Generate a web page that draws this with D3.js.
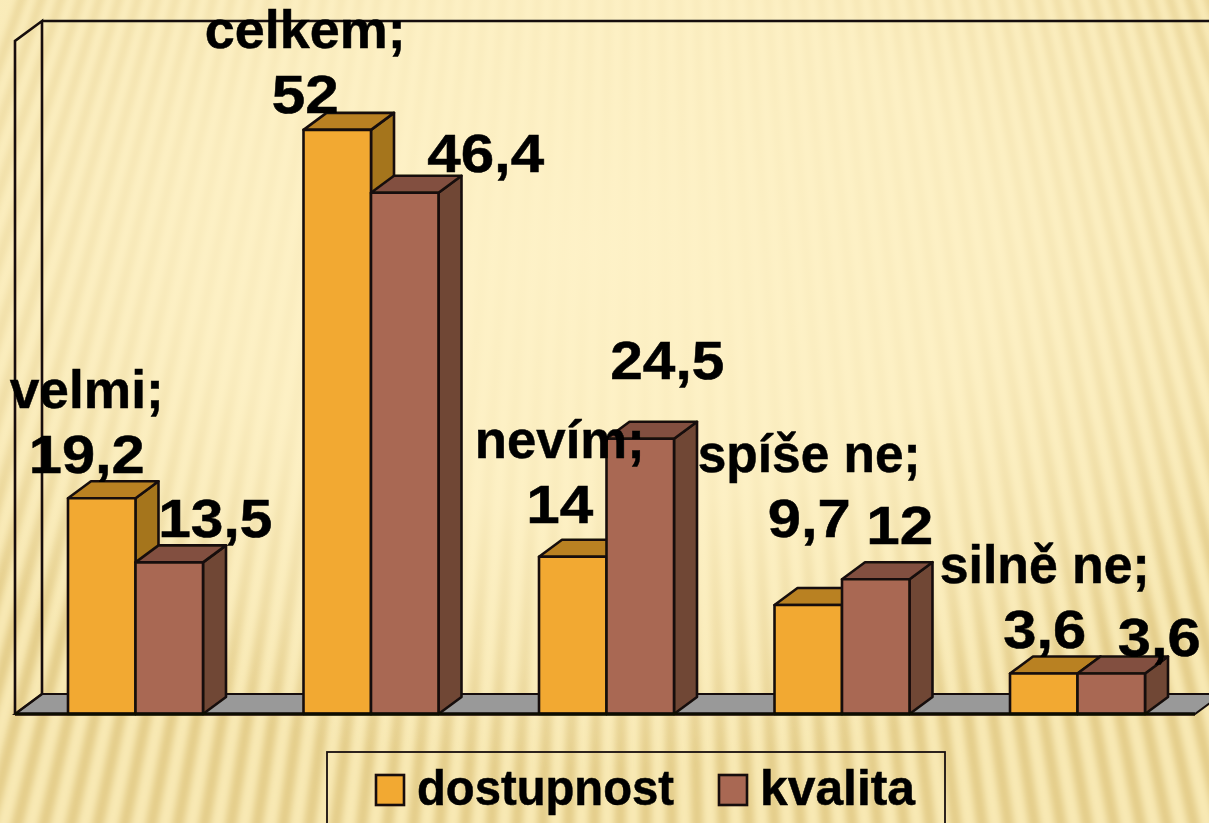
<!DOCTYPE html>
<html><head><meta charset="utf-8">
<script src="https://cdn.jsdelivr.net/npm/d3@7"></script>
<style>html,body{margin:0;padding:0;background:#f8e8b4;overflow:hidden}svg{display:block}
text{font-family:"Liberation Sans",Arial,sans-serif;font-weight:700;fill:#000;stroke:#000;stroke-width:.5px}</style>
</head><body><div id="chart"></div>
<script>
// ---- data ----
const categories = ["velmi", "celkem", "nevím", "spíše ne", "silně ne"];
const seriesNames = ["dostupnost", "kvalita"];
const dostupnost = [19.2, 52, 14, 9.7, 3.6];
const kvalita = [13.5, 46.4, 24.5, 12, 3.6];
const seriesValues = [dostupnost, kvalita];

// ---- layout of the hand-placed data labels (offset from the bar's front top centre) ----
const labelDx = [[-15, -32, -13, 1, 1], [46, 81, 27, 24, 48]];
const labelDy = [[-25, -17, -34, -68, -26], [-25, -21, -60, -35, -18]];
const labelW  = [[116, 67, 67, 83, 83], [114, 117, 114, 67, 83]];
const catDy = -65;
const catW = [154, 201, 170, 223, 210];

const W = 1209, H = 823;
const colors = {
  dostupnost: {front:"#f2a933", side:"#a5741c", top:"#b98124"},
  kvalita:    {front:"#a96853", side:"#6f4636", top:"#82503f"}
};
const ink = "#17100a";
const svg = d3.select("#chart").append("svg").attr("width", W).attr("height", H);
const defs = svg.append("defs");
defs.append("filter").attr("id","stripeBlur").attr("x","-5%").attr("y","-5%").attr("width","110%").attr("height","110%")
  .append("feGaussianBlur").attr("stdDeviation", 3.2);
defs.append("filter").attr("id","soft").attr("x","-2%").attr("y","-2%").attr("width","104%").attr("height","104%")
  .append("feGaussianBlur").attr("stdDeviation", 0.5);
const glow = defs.append("radialGradient").attr("id","glow").attr("gradientUnits","userSpaceOnUse")
  .attr("cx",0).attr("cy",0).attr("r",1)
  .attr("gradientTransform","translate(590,250) scale(800,520)");
[[0,.97],[.5,.82],[.8,.42],[1,0]].forEach(([o,a]) =>
  glow.append("stop").attr("offset",o).attr("stop-color","#fef2c8").attr("stop-opacity",a));

// ---- background: fan of soft stripes ----
svg.append("rect").attr("width",W).attr("height",H).attr("fill","#f8e9b4");
const apex = [640,-1800], radius = 3400, period = 0.0098;
const stripes = svg.append("g").attr("filter","url(#stripeBlur)");
d3.range(-34, 34).forEach(i => {
  const a0 = i*period, a1 = a0 + period*0.45;
  stripes.append("path").attr("fill","#e4cd8a")
    .attr("d", d3.line()([apex,
      [apex[0]+radius*Math.sin(a0), apex[1]+radius*Math.cos(a0)],
      [apex[0]+radius*Math.sin(a1), apex[1]+radius*Math.cos(a1)]])+"Z");
});
svg.append("rect").attr("width",W).attr("height",H).attr("fill","url(#glow)");

// ---- scales ----
const x0 = d3.scaleBand().domain(categories).range([68,1145]).paddingInner(0.4268);
const x1 = d3.scaleBand().domain(seriesNames).range([0,x0.bandwidth()]);
const y = d3.scaleLinear().domain([0,60]).range([714,40]);
const depthX = 23, depthY = -17, wallX = 27, wallY = -20;

const g = svg.append("g").attr("filter","url(#soft)");
const line = d3.line();
const base = y(0), topY = y(60);

// floor and walls
g.append("path").attr("fill","#999999").attr("stroke",ink).attr("stroke-width",2)
  .attr("d", line([[15,base],[15+wallX,base+wallY],[1195+wallX,base+wallY],[1195,base]])+"Z");
g.append("path").attr("fill","none").attr("stroke",ink).attr("stroke-width",2.6)
  .attr("d", line([[15,base],[15,topY+1],[15+wallX,topY+wallY+1],[15+wallX,base+wallY]]));
g.append("path").attr("fill","none").attr("stroke",ink).attr("stroke-width",2.6)
  .attr("d", line([[15+wallX,topY+wallY+1],[W+5,topY+wallY+1]]));
g.append("path").attr("fill","none").attr("stroke",ink).attr("stroke-width",2.4)
  .attr("d", line([[15,base],[15+wallX,base+wallY]]));

// bars
const barRows = categories.flatMap((c,i) => seriesNames.map((s,j) => ({c,i,s,j,v:seriesValues[j][i]})));
const bars = g.selectAll("g.bar").data(barRows).join("g").attr("class","bar")
  .attr("stroke",ink).attr("stroke-width",2.6).attr("stroke-linejoin","round");
const L = d => x0(d.c)+x1(d.s), R = d => L(d)+x1.bandwidth();
bars.append("path").attr("fill",d=>colors[d.s].side)
  .attr("d",d=>line([[R(d),y(d.v)],[R(d)+depthX,y(d.v)+depthY],[R(d)+depthX,base+depthY],[R(d),base]])+"Z");
bars.append("path").attr("fill",d=>colors[d.s].top)
  .attr("d",d=>line([[L(d),y(d.v)],[L(d)+depthX,y(d.v)+depthY],[R(d)+depthX,y(d.v)+depthY],[R(d),y(d.v)]])+"Z");
bars.append("rect").attr("fill",d=>colors[d.s].front)
  .attr("x",L).attr("y",d=>y(d.v)).attr("width",x1.bandwidth()).attr("height",d=>base-y(d.v));

// baseline
g.append("path").attr("fill","none").attr("stroke","#0c0805").attr("stroke-width",3.4)
  .attr("d", line([[15,base],[1195,base]]));

// data labels
const fmt = v => String(v).replace(".",",");
const labels = g.append("g");
barRows.forEach(d => {
  const cx = L(d)+x1.bandwidth()/2 + labelDx[d.j][d.i];
  const by = y(d.v) + labelDy[d.j][d.i];
  if (d.j === 0) {
    labels.append("text").attr("x",cx).attr("y",by+catDy).attr("text-anchor","middle")
      .attr("font-size",54).attr("textLength",catW[d.i]).attr("lengthAdjust","spacingAndGlyphs")
      .text(d.c+";");
  }
  labels.append("text").attr("x",cx).attr("y",by).attr("text-anchor","middle")
    .attr("font-size",54).attr("textLength",labelW[d.j][d.i]).attr("lengthAdjust","spacingAndGlyphs")
    .text(fmt(d.v));
});

// legend
const legend = g.append("g");
legend.append("rect").attr("x",327).attr("y",752).attr("width",618).attr("height",90)
  .attr("fill","none").attr("stroke",ink).attr("stroke-width",1.8);
const legendX = [376,719], legendTextW = [257,155];
seriesNames.forEach((s,i) => {
  legend.append("rect").attr("x",legendX[i]).attr("y",775).attr("width",28).attr("height",30)
    .attr("fill",colors[s].front).attr("stroke",ink).attr("stroke-width",2.6);
  legend.append("text").attr("x",legendX[i]+41).attr("y",805).attr("font-size",50)
    .attr("textLength",legendTextW[i]).attr("lengthAdjust","spacingAndGlyphs").text(s);
});
</script></body></html>
